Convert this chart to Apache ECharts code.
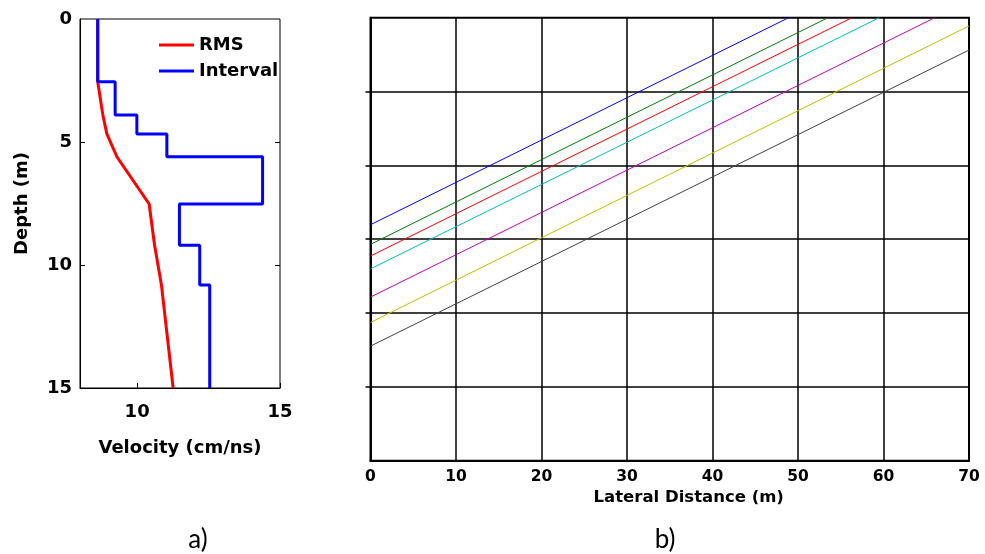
<!DOCTYPE html>
<html>
<head>
<meta charset="utf-8">
<script src="https://cdn.jsdelivr.net/npm/echarts@6/dist/echarts.min.js"></script>
<style>
  html, body { margin: 0; padding: 0; background: #fff; }
  #chart { width: 985px; height: 554px; }
</style>
</head>
<body>
<div id="chart"></div>
<script>
// ---- a) velocity model ----
// layer boundaries (m) and interval velocity of each layer (cm/ns)
var layerTops    = [0, 2.55, 3.9, 4.67, 5.6, 7.52, 9.2, 10.81];
var layerBottoms = [2.55, 3.9, 4.67, 5.6, 7.52, 9.2, 10.81, 15];
var intervalVel  = [8.62, 9.23, 9.99, 11.04, 14.39, 11.48, 12.19, 12.54];
// RMS velocity at each boundary
var rmsDepth = [0, 2.55, 3.9, 4.67, 5.6, 7.52, 9.2, 10.81, 15];
var rmsVel   = [8.62, 8.62, 8.80, 8.94, 9.29, 10.42, 10.61, 10.85, 11.26];
var velTickLabels = [10, 15];
var depthInnerTicks = [5, 10];

// ---- b) reflection lines over lateral distance ----
var lineColors = ['#0000ff', '#008000', '#ff0000', '#00bfbf', '#bf00bf', '#bfbf00', '#404040'];
var lineStartY = [15.98, 14.65, 13.86, 12.99, 11.08, 9.36, 7.76];
var lineEndX   = [48.9, 53.5, 56.3, 59.5, 66.0, 70, 70];
var lineEndY   = [30, 30, 30, 30, 30, 29.44, 27.81];
var rowTicks   = [5, 10, 15, 20, 25];

var FONT = '"DejaVu Sans", sans-serif';

// step curve for the interval velocity
var intervalPts = [];
for (var i = 0; i < intervalVel.length; i++) {
  intervalPts.push([intervalVel[i], layerTops[i]]);
  intervalPts.push([intervalVel[i], layerBottoms[i]]);
}
var rmsPts = rmsDepth.map(function (d, i) { return [rmsVel[i], d]; });

var rightSeries = lineColors.map(function (c, i) {
  return {
    type: 'line', xAxisIndex: 1, yAxisIndex: 2,
    data: [[0, lineStartY[i]], [lineEndX[i], lineEndY[i]]],
    symbol: 'none', silent: true,
    lineStyle: { color: c, width: 1 }
  };
});

var leftText = { fontFamily: FONT, fontWeight: 'bold', fontSize: 18, color: '#000' };
var rightText = { fontFamily: FONT, fontWeight: 'bold', fontSize: 15.5, color: '#000' };

var chart = echarts.init(document.getElementById('chart'), null, { renderer: 'canvas' });
chart.setOption({
  animation: false,
  backgroundColor: '#fff',
  grid: [
    { left: 80, top: 19, width: 200, height: 369, show: true, borderColor: '#000', borderWidth: 1, backgroundColor: '#fff' },
    { left: 370.5, top: 17.7, width: 598.5, height: 443, show: true, borderColor: '#000', borderWidth: 2, backgroundColor: '#fff' }
  ],
  legend: {
    data: ['RMS', 'Interval'],
    orient: 'vertical',
    left: 154, top: 31,
    itemWidth: 35, itemHeight: 3, itemGap: 8,
    icon: 'rect',
    textStyle: leftText
  },
  xAxis: [
    {
      gridIndex: 0, type: 'value', min: 8, max: 15,
      name: 'Velocity (cm/ns)', nameLocation: 'middle', nameGap: 51,
      nameTextStyle: leftText,
      axisLine: { show: true, onZero: false, lineStyle: { color: '#000', width: 1 } },
      axisTick: { show: true, inside: true, length: 5, customValues: velTickLabels, lineStyle: { color: '#000' } },
      axisLabel: Object.assign({ customValues: velTickLabels, margin: 15 }, leftText),
      splitLine: { show: false }
    },
    {
      gridIndex: 1, type: 'value', min: 0, max: 70, interval: 10,
      name: 'Lateral Distance (m)', nameLocation: 'middle', nameGap: 21,
      nameTextStyle: Object.assign({}, rightText, { fontSize: 16.5, padding: [0, 0, 0, 38] }),
      axisLine: { show: true, onZero: false, lineStyle: { color: '#000', width: 2 } },
      axisTick: { show: false },
      axisLabel: Object.assign({ margin: 8 }, rightText),
      splitLine: { show: true, lineStyle: { color: '#000', width: 1.5 } }
    }
  ],
  yAxis: [
    {
      gridIndex: 0, type: 'value', min: 0, max: 15, interval: 5, inverse: true,
      name: 'Depth (m)', nameLocation: 'middle', nameGap: 49,
      nameTextStyle: leftText,
      axisLine: { show: true, onZero: false, lineStyle: { color: '#000', width: 1 } },
      axisTick: { show: true, inside: true, length: 5, customValues: depthInnerTicks, lineStyle: { color: '#000' } },
      axisLabel: Object.assign({ margin: 8 }, leftText),
      splitLine: { show: false }
    },
    {
      gridIndex: 0, type: 'value', min: 0, max: 15, interval: 5, inverse: true, position: 'right',
      axisLine: { show: false, onZero: false },
      axisTick: { show: true, inside: true, length: 5, customValues: depthInnerTicks, lineStyle: { color: '#000' } },
      axisLabel: { show: false },
      splitLine: { show: false }
    },
    {
      gridIndex: 1, type: 'value', min: 0, max: 30, interval: 5,
      axisLine: { show: true, onZero: false, lineStyle: { color: '#000', width: 2 } },
      axisTick: { show: true, inside: false, length: 5, customValues: rowTicks, lineStyle: { color: '#000', width: 1.5 } },
      axisLabel: { show: false },
      splitLine: { show: true, lineStyle: { color: '#000', width: 1.5 } }
    }
  ],
  graphic: [
    { type: 'text', x: 198, y: 540, style: { text: 'a)', font: '26px Lato, "Open Sans", sans-serif', fill: '#000', align: 'center', verticalAlign: 'middle' } },
    { type: 'text', x: 665, y: 540, style: { text: 'b)', font: '26px Lato, "Open Sans", sans-serif', fill: '#000', align: 'center', verticalAlign: 'middle' } }
  ],
  series: [
    {
      name: 'RMS', type: 'line', xAxisIndex: 0, yAxisIndex: 0,
      data: rmsPts, symbol: 'none',
      itemStyle: { color: '#ff0000' },
      lineStyle: { color: '#ff0000', width: 3 }
    },
    {
      name: 'Interval', type: 'line', xAxisIndex: 0, yAxisIndex: 0,
      data: intervalPts, symbol: 'none',
      itemStyle: { color: '#0000ff' },
      lineStyle: { color: '#0000ff', width: 3 }
    }
  ].concat(rightSeries)
});
</script>
</body>
</html>
